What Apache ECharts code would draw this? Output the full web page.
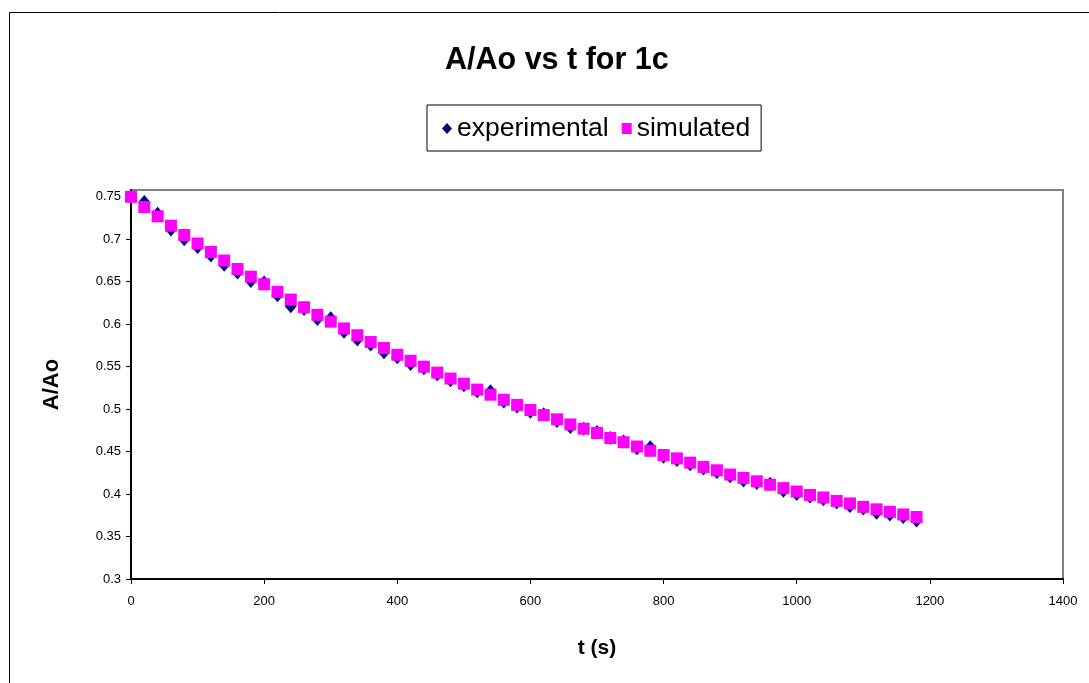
<!DOCTYPE html>
<html>
<head>
<meta charset="utf-8">
<script src="https://cdn.jsdelivr.net/npm/echarts@6/dist/echarts.min.js"></script>
<style>html,body{margin:0;padding:0;background:#fff}#c{width:1089px;height:683px}</style>
</head>
<body>
<div id="c"></div>
<script>
var times = [0,20,40,60,80,100,120,140,160,180,200,220,240,260,280,300,320,340,360,380,400,420,440,460,480,500,520,540,560,580,600,620,640,660,680,700,720,740,760,780,800,820,840,860,880,900,920,940,960,980,1000,1020,1040,1060,1080,1100,1120,1140,1160,1180];
var experimental = [0.751,0.744,0.730,0.7115,0.700,0.691,0.681,0.670,0.661,0.651,0.649,0.634,0.621,0.618,0.606,0.607,0.591,0.582,0.576,0.567,0.561,0.553,0.548,0.541,0.534,0.528,0.521,0.521,0.509,0.503,0.497,0.494,0.486,0.479,0.477,0.473,0.466,0.462,0.454,0.455,0.444,0.440,0.435,0.430,0.426,0.421,0.416,0.413,0.412,0.404,0.400,0.397,0.394,0.390,0.386,0.383,0.378,0.376,0.373,0.369];
var simulated = [0.750,0.738,0.727,0.716,0.705,0.695,0.685,0.675,0.665,0.656,0.647,0.638,0.629,0.620,0.611,0.603,0.595,0.587,0.579,0.572,0.564,0.557,0.550,0.543,0.536,0.530,0.523,0.517,0.511,0.505,0.499,0.493,0.488,0.482,0.477,0.472,0.466,0.461,0.456,0.451,0.446,0.442,0.437,0.432,0.428,0.423,0.419,0.415,0.411,0.407,0.403,0.399,0.396,0.392,0.389,0.385,0.382,0.379,0.376,0.373];
var seriesNames = ['experimental','simulated'];
var titleText = 'A/Ao vs t for 1c';
var xName = 't (s)';
var yName = 'A/Ao';

function pairs(xs, ys){ return xs.map(function(x,i){ return [x, ys[i]]; }); }

var font = 'Liberation Sans, Arial, sans-serif';
var chart = echarts.init(document.getElementById('c'));
chart.setOption({
  animation: false,
  textStyle: { fontFamily: font },
  title: {
    text: titleText,
    left: 440, top: 40,
    textStyle: { fontSize: 30.5, fontWeight: 'bold', color: '#000', fontFamily: font }
  },
  legend: {
    left: 427, top: 105,
    orient: 'horizontal',
    borderColor: '#000', borderWidth: 1,
    padding: [10, 11, 9, 15],
    itemGap: 13, itemWidth: 10, itemHeight: 11,
    textStyle: { fontSize: 26.5, color: '#000', fontFamily: font },
    data: [
      { name: seriesNames[0], icon: 'diamond', itemStyle: { color: '#000080', opacity: 1 } },
      { name: seriesNames[1], icon: 'rect', itemStyle: { color: '#FF00FF', opacity: 1 } }
    ]
  },
  graphic: [{
    type: 'rect', silent: true, z: -1,
    shape: { x: 9.5, y: 12.5, width: 1200, height: 800 },
    style: { fill: 'none', stroke: '#000', lineWidth: 1 }
  }],
  grid: {
    left: 131, right: 26, top: 190, bottom: 104,
    show: true, borderColor: '#808080', borderWidth: 2, backgroundColor: '#fff'
  },
  xAxis: {
    type: 'value', min: 0, max: 1400, interval: 200,
    name: xName, nameLocation: 'middle', nameGap: 59,
    nameTextStyle: { fontSize: 21, fontWeight: 'bold', color: '#000', fontFamily: font },
    axisLine: { show: true, onZero: false, lineStyle: { color: '#000', width: 2 } },
    axisTick: { show: true, inside: false, length: 5, lineStyle: { color: '#000', width: 1 } },
    axisLabel: { fontSize: 13, color: '#000', margin: 16, fontFamily: font,
      formatter: function(v){ return String(v); } },
    splitLine: { show: false }
  },
  yAxis: {
    type: 'value', min: 0.3, max: 0.758, interval: 0.05,
    name: yName, nameLocation: 'middle', nameGap: 68, nameRotate: 90,
    nameTextStyle: { fontSize: 22, fontWeight: 'bold', color: '#000', fontFamily: font },
    axisLine: { show: true, onZero: false, lineStyle: { color: '#000', width: 2 } },
    axisTick: { show: true, inside: false, length: 5, lineStyle: { color: '#000', width: 1 } },
    axisLabel: { fontSize: 13, color: '#000', margin: 10, showMaxLabel: false, fontFamily: font,
      formatter: function(v){ return String(Math.round(v*100)/100); } },
    splitLine: { show: false }
  },
  series: [
    {
      name: seriesNames[0], type: 'scatter', symbol: 'diamond', symbolSize: [12, 14],
      itemStyle: { color: '#000080', opacity: 1 },
      data: pairs(times, experimental)
    },
    {
      name: seriesNames[1], type: 'scatter', symbol: 'rect', symbolSize: 12,
      itemStyle: { color: '#FF00FF', opacity: 1 },
      data: pairs(times, simulated)
    }
  ]
});
</script>
</body>
</html>
